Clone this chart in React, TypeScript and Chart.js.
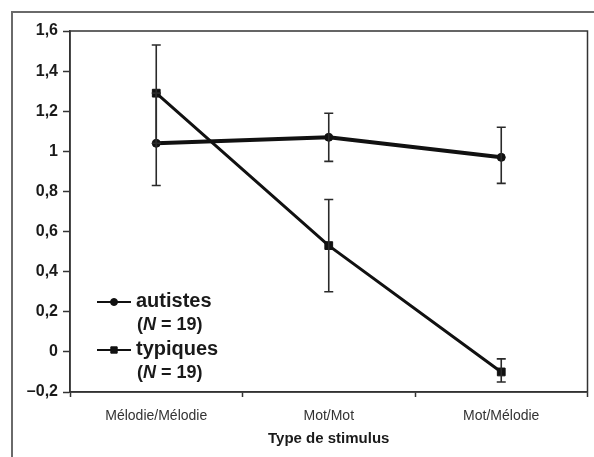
import React, { useEffect, useRef } from "react";
import { Chart, registerables } from "chart.js";
import { drawPoint } from "chart.js/helpers";

Chart.register(...registerables);

const categories = ["Mélodie/Mélodie", "Mot/Mot", "Mot/Mélodie"];
const autistes = [1.04, 1.07, 0.97];
const autistesLow = [0.83, 0.95, 0.84];
const autistesHigh = [1.29, 1.19, 1.12];
const typiques = [1.29, 0.53, -0.1];
const typiquesLow = [1.04, 0.3, -0.15];
const typiquesHigh = [1.53, 0.76, -0.035];
const legendNames = ["autistes", "typiques"];
const legendN = "19";
const axisTitle = "Type de stimulus";

const FONT = "'Liberation Sans', Arial, sans-serif";

const errorBarPlugin = {
  id: "errorBars",
  afterDatasetsDraw(chart: any) {
    const { ctx, scales } = chart;
    const x = scales.x;
    const y = scales.y;
    const sets = [
      [autistesLow, autistesHigh],
      [typiquesLow, typiquesHigh],
    ];
    ctx.save();
    ctx.strokeStyle = "#2a2a2a";
    ctx.lineWidth = 1.6;
    sets.forEach(([lo, hi]) => {
      lo.forEach((l, i) => {
        const px = x.getPixelForValue(i);
        const yl = y.getPixelForValue(l);
        const yh = y.getPixelForValue(hi[i]);
        ctx.beginPath();
        ctx.moveTo(px, yl);
        ctx.lineTo(px, yh);
        ctx.moveTo(px - 4.5, yl);
        ctx.lineTo(px + 4.5, yl);
        ctx.moveTo(px - 4.5, yh);
        ctx.lineTo(px + 4.5, yh);
        ctx.stroke();
      });
    });
    ctx.restore();
  },
};

const framePlugin = {
  id: "frames",
  beforeDraw(chart: any) {
    const { ctx } = chart;
    ctx.save();
    ctx.fillStyle = "#ffffff";
    ctx.fillRect(0, 0, chart.width, chart.height);
    ctx.strokeStyle = "#6a6a6a";
    ctx.lineWidth = 2;
    ctx.beginPath();
    ctx.moveTo(12, chart.height);
    ctx.lineTo(12, 12);
    ctx.lineTo(chart.width, 12);
    ctx.stroke();
    ctx.restore();
  },
  afterDraw(chart: any) {
    const { ctx, chartArea } = chart;
    ctx.save();
    ctx.strokeStyle = "#333";
    ctx.lineWidth = 1.5;
    ctx.strokeRect(chartArea.left, chartArea.top, chartArea.right - chartArea.left, chartArea.bottom - chartArea.top);
    ctx.restore();
  },
};

const legendPlugin = {
  id: "customLegend",
  afterDatasetsDraw(chart: any) {
    const { ctx, chartArea } = chart;
    const x0 = chartArea.left + 27;
    const rows = [
      { y: chartArea.bottom - 90, ds: 0 },
      { y: chartArea.bottom - 42, ds: 1 },
    ];
    ctx.save();
    rows.forEach((r) => {
      const ds = chart.data.datasets[r.ds];
      ctx.strokeStyle = "#111";
      ctx.fillStyle = "#111";
      ctx.lineWidth = 2;
      ctx.beginPath();
      ctx.moveTo(x0, r.y);
      ctx.lineTo(x0 + 34, r.y);
      ctx.stroke();
      ctx.lineWidth = 1;
      drawPoint(ctx, {
        pointStyle: ds.pointStyle,
        radius: r.ds === 0 ? 3.5 : 4.5,
        borderWidth: 1,
        rotation: 0,
      }, x0 + 17, r.y);
      ctx.fillStyle = "#1a1a1a";
      ctx.font = `bold 20px ${FONT}`;
      ctx.textBaseline = "middle";
      ctx.textAlign = "left";
      ctx.fillText(legendNames[r.ds], x0 + 39, r.y - 1);
      let tx = x0 + 40;
      const ty = r.y + 23;
      ctx.font = `bold 18px ${FONT}`;
      ctx.fillText("(", tx, ty);
      tx += ctx.measureText("(").width;
      ctx.font = `italic bold 18px ${FONT}`;
      ctx.fillText("N", tx, ty);
      tx += ctx.measureText("N").width;
      ctx.font = `bold 18px ${FONT}`;
      ctx.fillText(" = " + legendN + ")", tx, ty);
    });
    ctx.restore();
  },
};

function fmt(v: number) {
  const r = Math.round(v * 10) / 10;
  const s = String(Math.abs(r)).replace(".", ",");
  return r < 0 ? "–" + s : s;
}

export default function App() {
  const ref = useRef<HTMLCanvasElement | null>(null);
  useEffect(() => {
    if (!ref.current) return;
    const chart = new Chart(ref.current, {
      type: "line",
      data: {
        labels: categories,
        datasets: [
          {
            label: legendNames[0],
            data: autistes,
            borderColor: "#111",
            backgroundColor: "#111",
            borderWidth: 4,
            pointStyle: "circle",
            pointRadius: 4,
            pointBorderWidth: 1,
            tension: 0,
          },
          {
            label: legendNames[1],
            data: typiques,
            borderColor: "#111",
            backgroundColor: "#111",
            borderWidth: 3,
            pointStyle: "rect",
            pointRadius: 5.5,
            pointBorderWidth: 1,
            tension: 0,
          },
        ],
      },
      options: {
        responsive: false,
        animation: false,
        layout: { padding: { left: 0, right: 6, top: 31, bottom: 0 } },
        plugins: {
          legend: { display: false },
          tooltip: { enabled: false },
        },
        scales: {
          x: {
            type: "category",
            offset: true,
            grid: {
              offset: true,
              drawOnChartArea: false,
              tickLength: 5,
              color: "#333",
              tickWidth: 1.5,
            },
            border: { color: "#333", width: 1.5 },
            ticks: {
              color: "#333",
              padding: 11,
              maxRotation: 0,
              font: { family: FONT, size: 14 },
            },
            title: {
              display: true,
              text: axisTitle,
              color: "#1a1a1a",
              font: { family: FONT, size: 15, weight: "bold" },
              padding: { top: 0, bottom: 9 },
            },
            afterFit(scale: any) {
              scale.height = 65;
            },
          },
          y: {
            min: -0.2,
            max: 1.6,
            ticks: {
              stepSize: 0.2,
              color: "#1a1a1a",
              padding: 5,
              font: { family: FONT, size: 16, weight: "bold" },
              callback: (v: any) => fmt(Number(v)),
            },
            grid: {
              drawOnChartArea: false,
              tickLength: 7,
              color: "#333",
              tickWidth: 1.5,
            },
            border: { color: "#333", width: 1.5 },
            afterFit(scale: any) {
              scale.width = 70;
            },
          },
        },
      },
      plugins: [framePlugin, errorBarPlugin, legendPlugin],
    });
    return () => chart.destroy();
  }, []);
  return (
    <div style={{ position: "fixed", left: 0, top: 0, width: 594, height: 457, background: "#fff" }}>
      <canvas ref={ref} width={594} height={457} style={{ display: "block" }} />
    </div>
  );
}
